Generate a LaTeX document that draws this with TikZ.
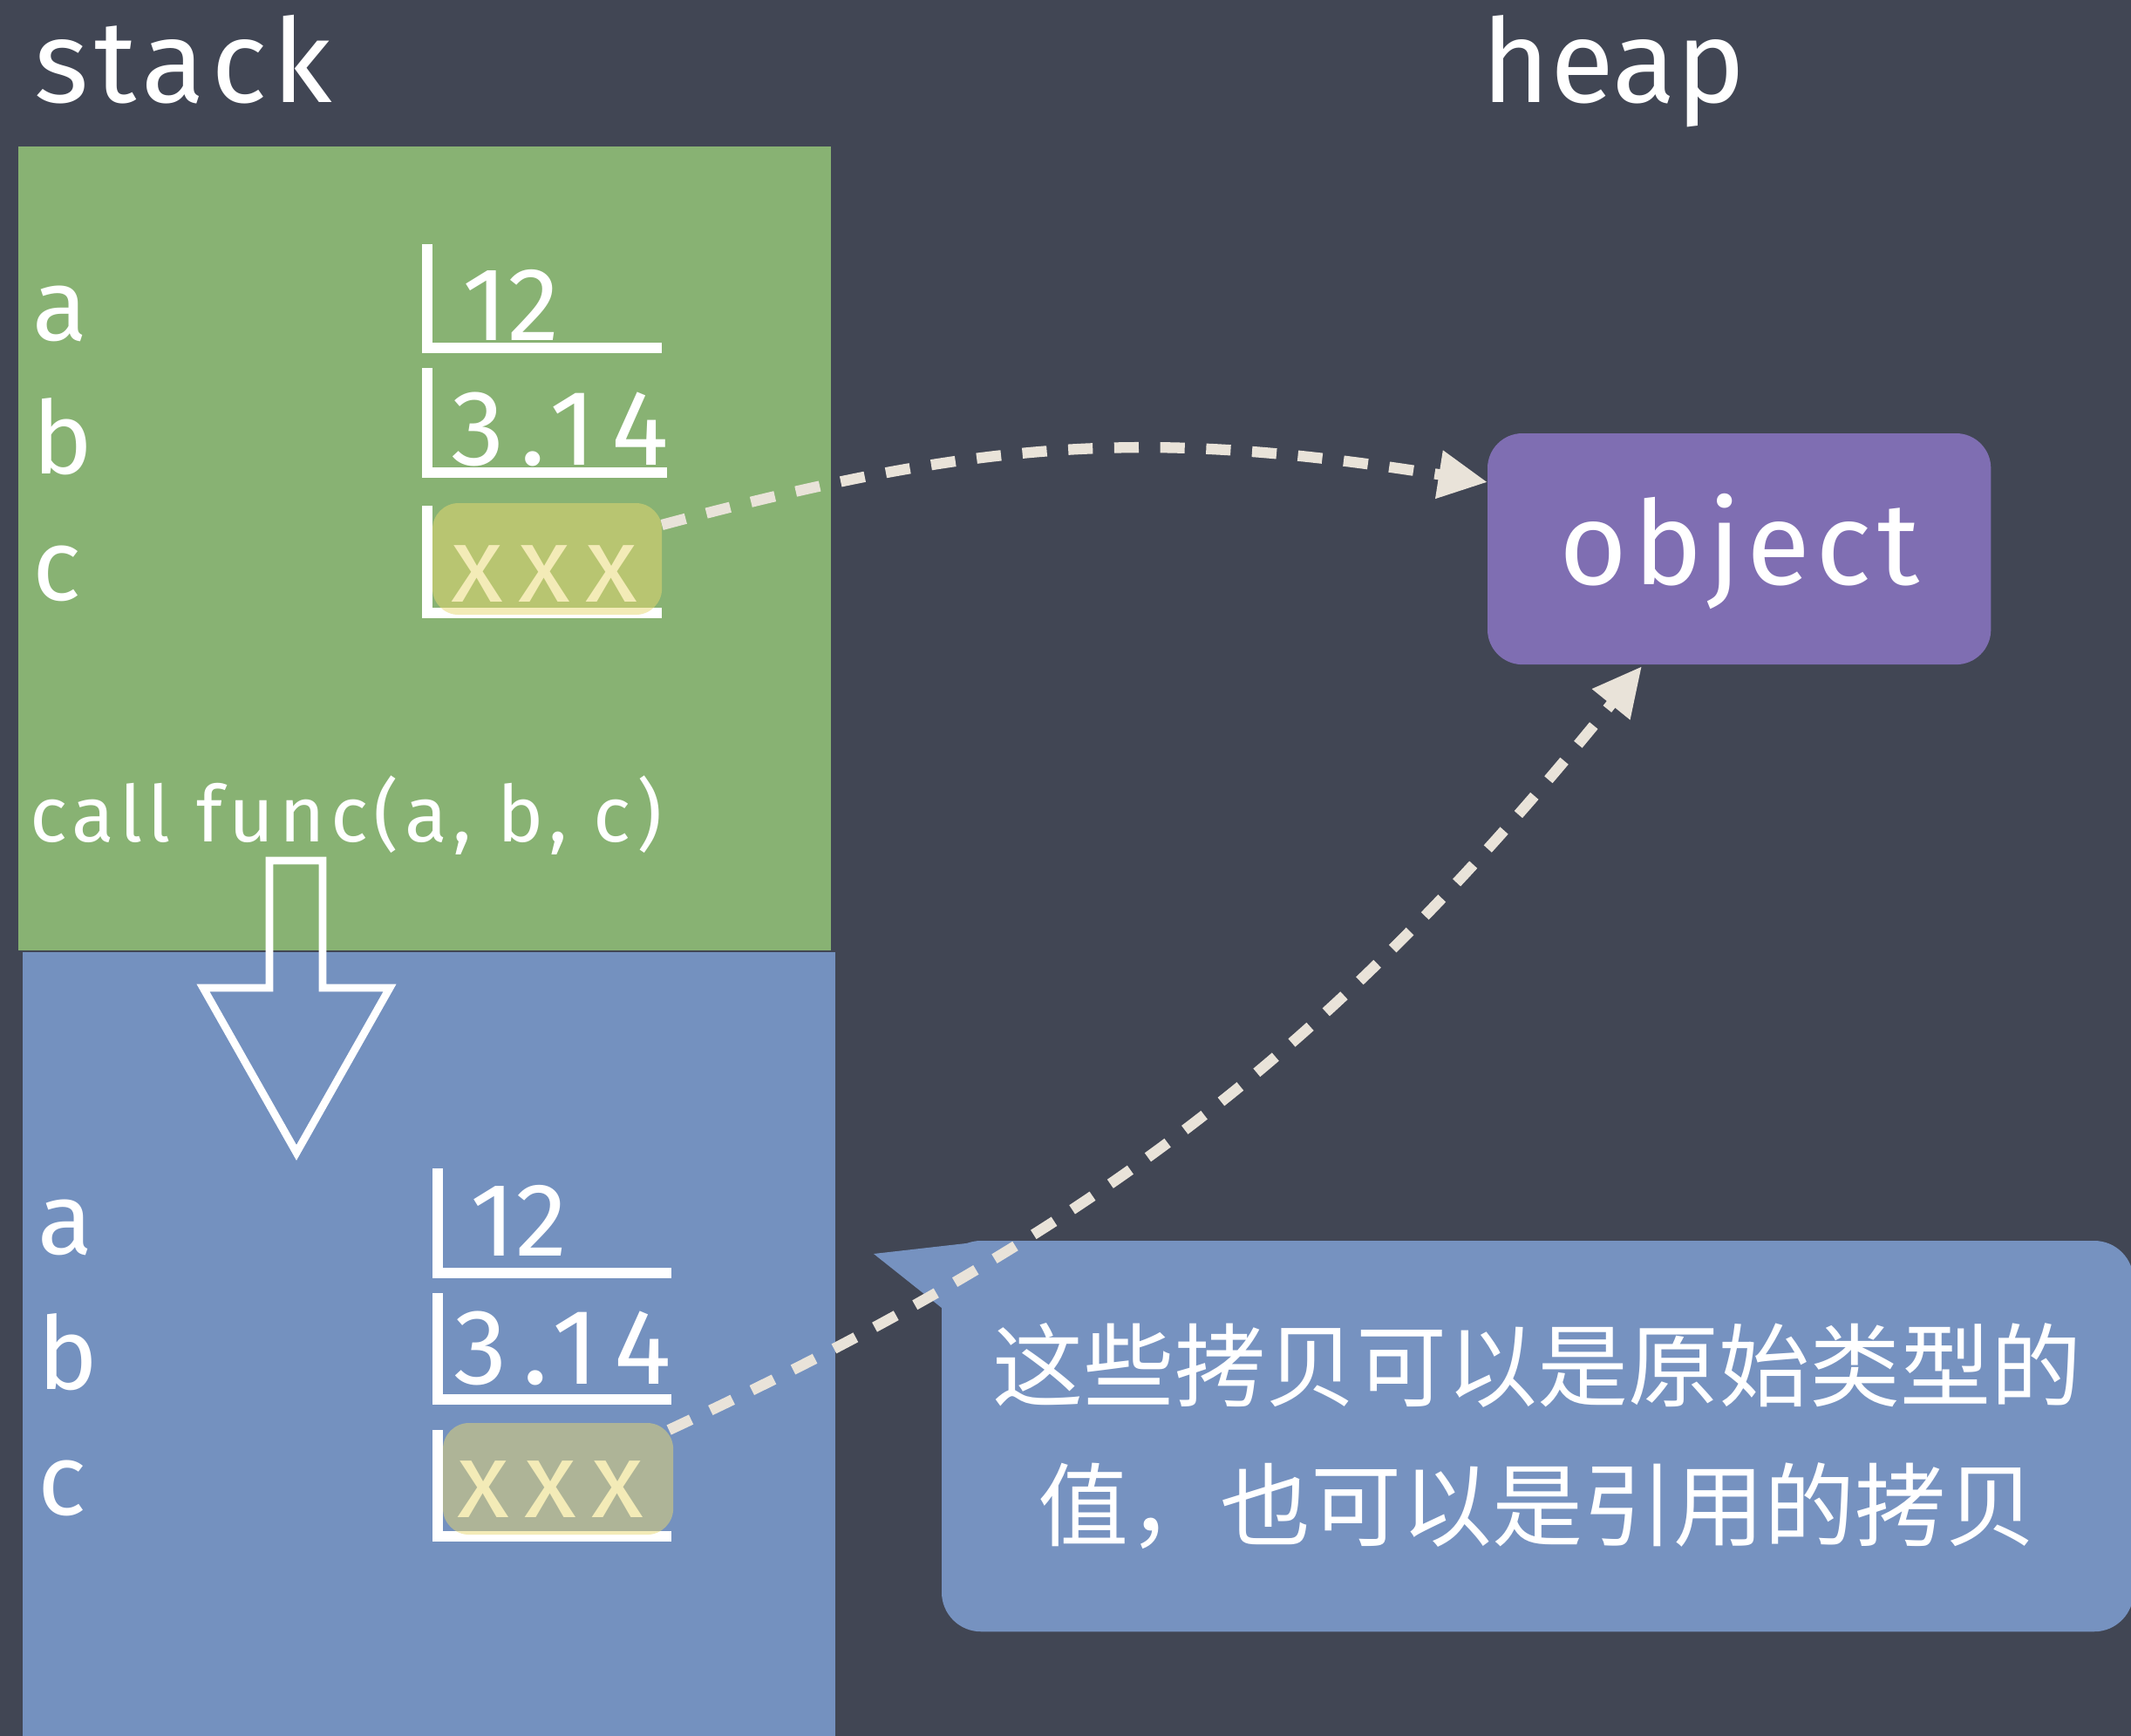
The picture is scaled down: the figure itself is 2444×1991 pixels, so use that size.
\documentclass[tikz,border=0pt]{standalone}
\usepackage{fontspec}
\setmainfont{Fira Sans}
\newfontfamily\cjk{Noto Sans CJK SC}
\usetikzlibrary{arrows.meta,calc}
\definecolor{board}{HTML}{414654}
\definecolor{stackgreen}{HTML}{88B273}
\definecolor{stackblue}{HTML}{7491BF}
\definecolor{objpurple}{HTML}{7F6EB2}
\definecolor{noteblue}{HTML}{7692C0}
\definecolor{hlyellow}{HTML}{E8D870}
\definecolor{cream}{HTML}{E9E3D9}
\begin{document}
\begin{tikzpicture}[x=0.01cm,y=-0.01cm,
  frame/.style={inner sep=0,outer sep=0,anchor=north west},
  chalk/.style={text=white,inner sep=0,anchor=base west},
  title/.style={chalk,font=\fontsize{38pt}{44pt}\selectfont},
  varname/.style={chalk,font=\fontsize{33pt}{38pt}\selectfont},
  val/.style={chalk,font=\fontsize{34pt}{40pt}\selectfont},
  valwide/.style={chalk,font=\fontsize{35pt}{40pt}\selectfont\addfontfeature{LetterSpace=14}},
  brk/.style={draw=white,line width=3.3pt},
  hl/.style={frame,fill=hlyellow,fill opacity=0.5,rounded corners=3mm},
  conn/.style={draw=cream,line width=3.5pt,dash pattern=on 8pt off 7pt,
    -{Triangle[length=16pt,width=15pt]}},
]
\useasboundingbox (0,0) rectangle (2444,1991);
\fill[board] (0,0) rectangle (2444,1991);

% titles
\node[title,font=\fontsize{38pt}{44pt}\selectfont\addfontfeature{LetterSpace=5}] (tstack) at (39,118) {stack};
\node[title] (theap) at (1699,118) {heap};

% stack frames
\node[frame,fill=stackgreen,minimum width=93.1mm,minimum height=92.1mm] (frameA) at (21,168) {};
\node[frame,fill=stackblue,minimum width=93.1mm,minimum height=90mm] (frameB) at (26,1092) {};

% green frame contents
\node[varname] (ga) at (37,391) {a};
\node[varname] (gb) at (37,544) {b};
\node[varname] (gc) at (37,688) {c};
\draw[brk] (490,280) -- (490,399) -- (759,399);
\draw[brk] (490,422) -- (490,542) -- (765,542);
\draw[brk] (490,580) -- (490,703) -- (759,703);
\node[val] (gv1) at (530,391) {12};
\node[valwide] (gv2) at (517,533) {3.14};
\node[valwide] (gv3) at (517,690) {xxx};
\node[hl,minimum width=26.3mm,minimum height=12.8mm] (cg) at (496,577) {};
\node[chalk,font=\fontsize{25.5pt}{30pt}\selectfont\addfontfeature{LetterSpace=7}] (call) at (34,965) {call func(a, b, c)};

% hollow arrow
\draw[white,line width=2.5pt,line join=miter]
  (309,987) -- (370,987) -- (370,1133) -- (447,1133) -- (340,1322)
  -- (233,1133) -- (309,1133) -- cycle;

% blue frame contents
\node[varname] (ba) at (43,1438) {a};
\node[varname] (bb) at (43,1593) {b};
\node[varname] (bc) at (43,1737) {c};
\draw[brk] (502,1340) -- (502,1460) -- (770,1460);
\draw[brk] (502,1483) -- (502,1605) -- (770,1605);
\draw[brk] (502,1640) -- (502,1762) -- (770,1762);
\node[val] (bv1) at (539,1440) {12};
\node[valwide] (bv2) at (520,1587) {3.14};
\node[valwide] (bv3) at (524,1740) {xxx};
\node[hl,minimum width=26.4mm,minimum height=12.8mm] (cb) at (508,1632) {};

% heap object
\node[frame,fill=objpurple,rounded corners=4mm,minimum width=57.7mm,minimum height=26.5mm] (obj) at (1706,497) {};
\node[chalk,anchor=base,font=\fontsize{38pt}{44pt}\selectfont\addfontfeature{LetterSpace=5}] (objtxt) at (1995,670) {object};

% callout
\coordinate (tailtip) at (1002,1438);
\fill[noteblue] (tailtip) -- (1130,1423.5) -- (1080,1500) -- cycle;
\node[frame,fill=noteblue,rounded corners=4.5mm,minimum width=136.6mm,minimum height=44.8mm,
  text=white,align=center,font=\cjk\fontsize{29.6pt}{45.5pt}\selectfont] (note) at (1080,1423)
  {这些拷贝可以是原始类型的\\值，也可以是引用的拷贝};

% connectors
\draw[conn] ($(cg.north east)+(0,25)$) to[out=15,in=171,looseness=1.05] ($(obj.north west)+(0,56)$);
\draw[conn] ($(cb.north east)+(-5,8)$) to[out=25,in=231] ($(obj.south west)+(177,2)$);
\end{tikzpicture}
\end{document}
